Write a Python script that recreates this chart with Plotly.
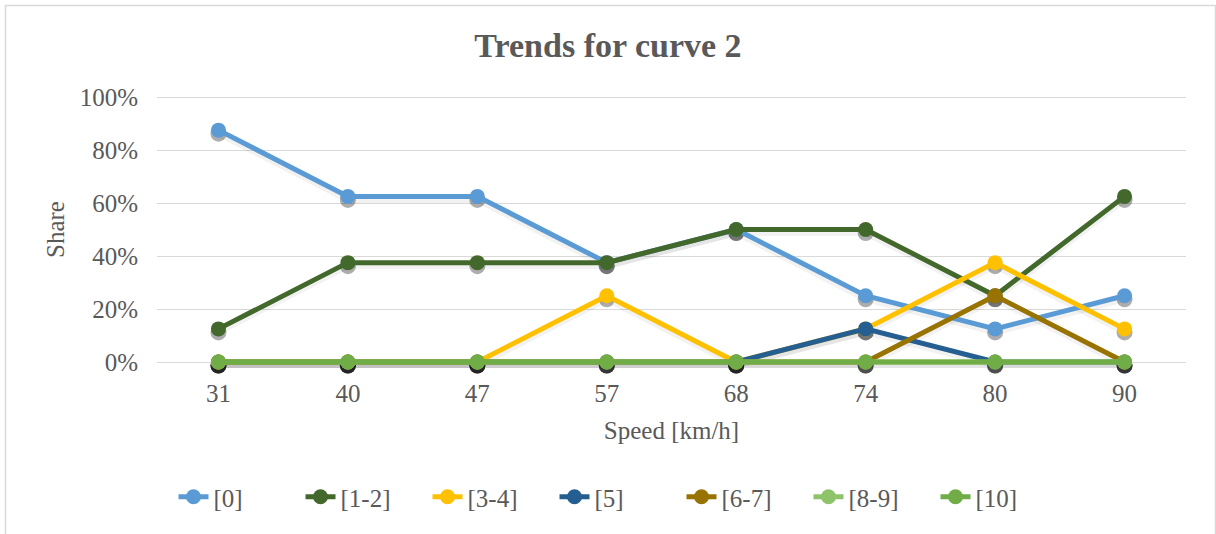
import plotly.graph_objects as go

speeds = ["31", "40", "47", "57", "68", "74", "80", "90"]
series_names = ["[0]", "[1-2]", "[3-4]", "[5]", "[6-7]", "[8-9]", "[10]"]
s0 = [0.875, 0.625, 0.625, 0.375, 0.50, 0.25, 0.125, 0.25]
s12 = [0.125, 0.375, 0.375, 0.375, 0.50, 0.50, 0.25, 0.625]
s34 = [0.0, 0.0, 0.0, 0.25, 0.0, 0.125, 0.375, 0.125]
s5 = [0.0, 0.0, 0.0, 0.0, 0.0, 0.125, 0.0, 0.0]
s67 = [0.0, 0.0, 0.0, 0.0, 0.0, 0.0, 0.25, 0.0]
s89 = [0.0, 0.0, 0.0, 0.0, 0.0, 0.0, 0.0, 0.0]
s10 = [0.0, 0.0, 0.0, 0.0, 0.0, 0.0, 0.0, 0.0]
colors = ["#5B9BD5", "#43682B", "#FFC000", "#255E91", "#997300", "#8FC36A", "#70AD47"]
values = [s0, s12, s34, s5, s67, s89, s10]

FONT = "Liberation Serif"
GRAY = "#595959"
FS = 25

W, H = 1216, 534
M_L, M_R = 157, 30
PLOT_W = W - M_L - M_R
UNIT = 265            # px for 0..100 %
PAD_PX = 6            # extra room above/below so shadows at 0 stay in range
PAD = PAD_PX / UNIT
SHIFT = 3.5 / UNIT    # drop-shadow offset in axis units
M_T, M_B = 97 - PAD_PX, 172 - PAD_PX
PLOT_H = H - M_T - M_B
BOTTOM_PX = H - M_B


def py(px):
    return (BOTTOM_PX - px) / PLOT_H


def px_x(px):
    return (px - M_L) / PLOT_W


fig = go.Figure()
# drop shadows on the base axis (range shifted so they sit a few px lower)
for name, vals in zip(series_names, values):
    fig.add_trace(go.Scatter(
        x=speeds, y=vals, mode="lines+markers", showlegend=False, hoverinfo="skip",
        line=dict(color="rgba(0,0,0,0.05)", width=6),
        marker=dict(color="rgba(0,0,0,0.32)", size=16),
        cliponaxis=False, yaxis="y",
    ))
# the series
for name, vals, col in zip(series_names, values, colors):
    fig.add_trace(go.Scatter(
        x=speeds, y=vals, name=name, mode="lines+markers",
        line=dict(color=col, width=5),
        marker=dict(color=col, size=15),
        cliponaxis=False, yaxis="y2",
    ))

fig.update_layout(
    width=W, height=H,
    paper_bgcolor="white", plot_bgcolor="white",
    margin=dict(l=M_L, r=M_R, t=M_T, b=M_B),
    title=dict(text="<b>Trends for curve 2</b>", x=0.5, xanchor="center",
               y=0.916, yanchor="middle",
               font=dict(family=FONT, size=34, color=GRAY)),
    font=dict(family=FONT, size=FS, color=GRAY),
    showlegend=True,
    legend=dict(orientation="h", x=px_x(618), xanchor="center", y=py(497), yanchor="middle",
                entrywidth=82, entrywidthmode="pixels",
                font=dict(family=FONT, size=FS, color=GRAY)),
    xaxis=dict(type="category", showgrid=False, zeroline=False, showline=False,
               ticks="", ticklabelstandoff=8, tickfont=dict(family=FONT, size=FS, color=GRAY),
               title=dict(text="Speed [km/h]", standoff=15,
                          font=dict(family=FONT, size=FS, color=GRAY))),
    yaxis=dict(range=[-PAD + SHIFT, 1 + PAD + SHIFT], visible=False, showgrid=False,
               zeroline=False),
    yaxis2=dict(overlaying="y", side="left", range=[-PAD, 1 + PAD],
                tickvals=[0, 0.2, 0.4, 0.6, 0.8, 1.0], tickformat=".0%",
                showgrid=True, gridcolor="#D9D9D9", gridwidth=1, zeroline=False,
                showline=False, ticks="", ticklabelstandoff=18,
                tickfont=dict(family=FONT, size=FS, color=GRAY),
                title=dict(text="Share", standoff=7,
                           font=dict(family=FONT, size=FS, color=GRAY))),
    shapes=[dict(type="rect", xref="paper", yref="paper",
                 x0=px_x(5.5), x1=px_x(1215.5), y0=py(545), y1=py(5.5),
                 line=dict(color="#D9D9D9", width=1.5), layer="below")],
)

fig.write_html("out.html", config={"displayModeBar": False})
with open("out.html", "r", encoding="utf-8") as f:
    html = f.read()
html = html.replace("<head>", "<head><style>html,body{margin:0;padding:0;overflow:hidden}</style>", 1)
with open("out.html", "w", encoding="utf-8") as f:
    f.write(html)
